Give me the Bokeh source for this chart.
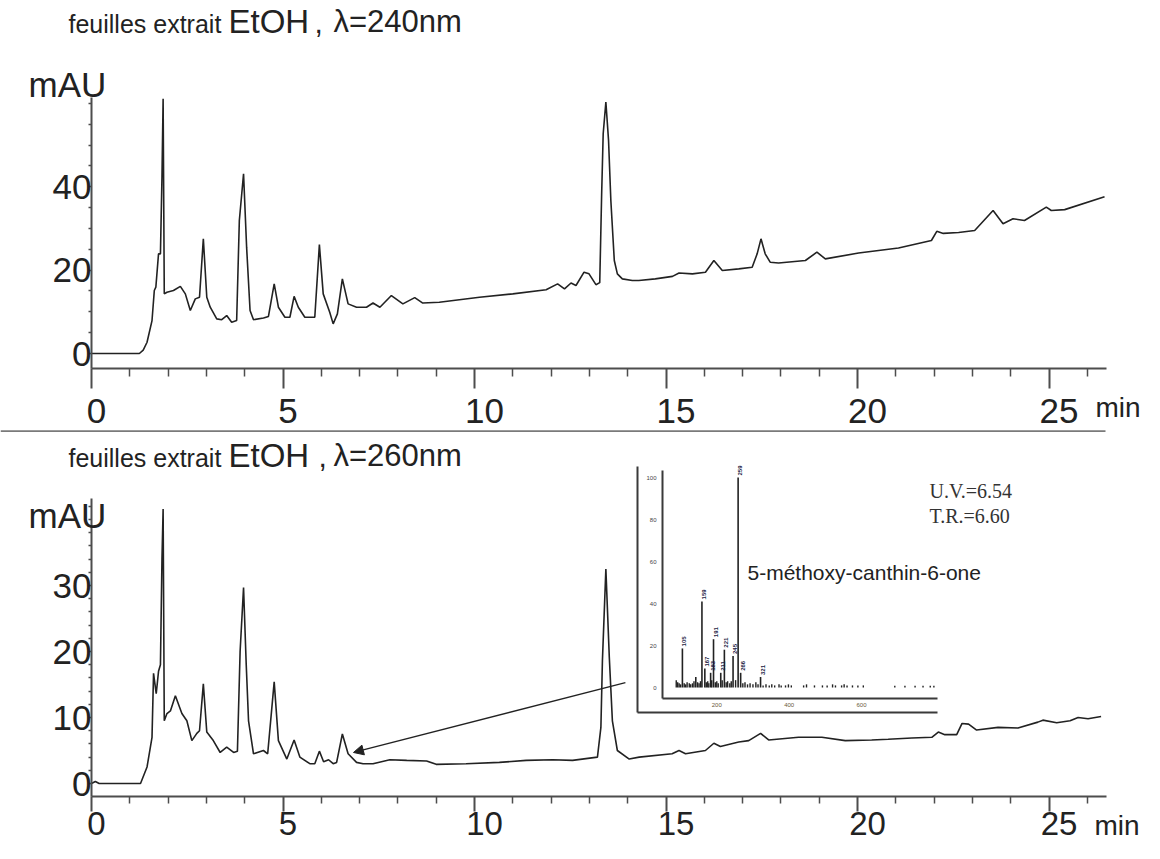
import math
from bokeh.plotting import figure
from bokeh.layouts import column
from bokeh.models import (Range1d, LinearAxis, FixedTicker, Label,
                          Arrow, NormalHead, BoxAnnotation)
from bokeh.embed import file_html
from bokeh.resources import INLINE
from bokeh.core.properties import value

# ----------------------------------------------------------------- data
# chromatogram at 240 nm (min, mAU)
t240 = [0, 1.25, 1.35, 1.45, 1.58, 1.64, 1.68, 1.75, 1.8, 1.84, 1.87, 1.9, 1.97, 2.14, 2.32,
        2.45, 2.58, 2.71, 2.82, 2.92, 3.01, 3.1, 3.27, 3.4, 3.53, 3.66, 3.79, 3.86, 3.97, 4.05,
        4.14, 4.23, 4.49, 4.62, 4.77, 4.88, 5.05, 5.18, 5.29, 5.4, 5.57, 5.83, 5.95, 6.05, 6.22,
        6.31, 6.42, 6.55, 6.7, 6.92, 7.18, 7.35, 7.53, 7.83, 8.13, 8.44, 8.65, 9.08, 10.13, 11.0,
        11.87, 12.17, 12.35, 12.52, 12.65, 12.86, 12.99, 13.17, 13.27, 13.32, 13.36, 13.43, 13.5,
        13.56, 13.65, 13.73, 13.86, 14.12, 14.29, 14.72, 15.17, 15.34, 15.69, 16.03, 16.25, 16.47,
        16.9, 17.25, 17.38, 17.48, 17.59, 17.72, 17.94, 18.64, 18.94, 19.16, 20.03, 21.07, 21.93,
        22.07, 22.24, 22.64, 23.06, 23.54, 23.8, 24.06, 24.36, 24.93, 25.06, 25.41, 26.45]
a240 = [0, 0, 0.8, 2.7, 7.9, 15.1, 15.9, 23.9, 23.9, 42.3, 61.1, 14.3, 14.7, 15.1, 16.1,
        14.3, 10.3, 13.1, 13.5, 27.5, 13.5, 11.1, 8.3, 8.1, 9.1, 7.5, 7.9, 31.9, 43.1, 25.5,
        10.3, 8.1, 8.5, 8.9, 16.7, 11.1, 8.7, 8.7, 13.7, 11.1, 8.7, 8.7, 26.1, 14.3, 9.9,
        7.1, 9.5, 17.9, 11.9, 11.1, 11.1, 12.1, 11.1, 13.9, 11.9, 13.4, 12.1, 12.3, 13.5, 14.3,
        15.3, 16.7, 15.5, 16.9, 16.3, 19.5, 19.1, 16.5, 17.0, 38.3, 52.7, 60.3, 51.1,
        36.7, 22.3, 19.1, 17.9, 17.5, 17.5, 17.9, 18.5, 19.3, 19.1, 19.5, 22.3, 19.9,
        20.3, 20.7, 23.9, 27.5, 23.9, 21.9, 21.7, 22.3, 24.3, 22.7, 24.1, 25.3, 27.1,
        29.3, 28.8, 29.0, 29.5, 34.3, 31.1, 32.3, 31.9, 35.1, 34.3, 34.5, 37.6]

# chromatogram at 260 nm (min, mAU)
t260 = [0, 0.1, 0.2, 1.28, 1.45, 1.58, 1.62, 1.69, 1.75, 1.8, 1.84, 1.87, 1.9, 1.97, 2.06,
        2.19, 2.36, 2.49, 2.62, 2.75, 2.82, 2.92, 3.01, 3.18, 3.36, 3.53, 3.71, 3.81, 3.88, 3.97,
        4.04, 4.1, 4.23, 4.49, 4.6, 4.77, 4.88, 5.1, 5.29, 5.44, 5.7, 5.83, 5.95, 6.06, 6.19,
        6.31, 6.4, 6.55, 6.7, 6.92, 7.09, 7.35, 7.79, 8.23, 8.75, 9.0, 9.78, 10.65, 11.35, 12.04,
        12.56, 13.21, 13.3, 13.34, 13.43, 13.52, 13.6, 13.73, 14.04, 14.3, 15.16, 15.34, 15.51,
        16.03, 16.25, 16.42, 16.9, 17.16, 17.47, 17.68, 18.46, 19.07, 19.68, 20.37, 20.8, 21.42,
        21.94, 22.11, 22.28, 22.59, 22.73, 22.9, 23.11, 23.67, 24.19, 24.71, 24.84, 25.2, 25.55,
        25.76, 26.02, 26.36]
a260 = [0, 0.3, 0, 0, 2.5, 7.0, 16.7, 13.6, 17.0, 18.0, 34.0, 41.6, 9.5, 10.6, 11.0,
        13.3, 10.6, 9.5, 6.5, 7.6, 8.0, 15.1, 7.8, 6.5, 4.7, 5.5, 4.7, 4.9, 20.0, 29.7,
        18.0, 9.5, 4.5, 5.0, 4.5, 15.4, 6.5, 3.7, 6.6, 4.0, 3.0, 3.0, 4.9, 3.3, 3.6,
        3.0, 3.2, 7.5, 4.5, 3.2, 3.0, 3.0, 3.6, 3.5, 3.4, 2.9, 3.0, 3.2, 3.5, 3.6,
        3.5, 4.0, 8.5, 18.6, 32.5, 19.1, 9.5, 5.0, 3.7, 4.0, 4.5, 5.0, 4.5,
        5.0, 6.1, 5.6, 6.3, 6.5, 7.6, 6.6, 7.0, 7.0, 6.5, 6.6, 6.7, 6.9,
        7.0, 7.8, 7.4, 7.4, 9.1, 9.0, 8.1, 8.5, 8.4, 9.3, 9.6, 9.2, 9.5,
        10.0, 9.8, 10.15]

x_major = [0, 5, 10, 15, 20, 25]
x_minor = [1, 2, 3, 4, 6, 7, 8, 9, 11, 12, 13, 14, 16, 17, 18, 19, 21, 22, 23, 24, 26]
y240_major = [0, 20, 40]
y240_minor = [5, 10, 15, 25, 30, 35, 45, 50, 55, 60]
y260_major = [0, 10, 20, 30]
y260_minor = [2, 4, 6, 8, 12, 14, 16, 18, 22, 24, 26, 28, 32, 34, 36, 38, 40, 42]

# inset mass spectrum (m/z, relative abundance %)
ms_mz = [105, 142, 159, 167, 183, 191, 211, 221, 245, 259, 266, 321]
ms_pct = [18.6, 5, 41, 9, 7, 23, 7, 18, 15, 100, 7, 5]
ms_label_mz = [105, 159, 167, 183, 191, 211, 221, 245, 259, 266, 321]
ms_noise_mz = [88, 92, 96, 100, 110, 114, 118, 124, 128, 133, 137, 147, 151, 155, 171, 175,
               178, 186, 196, 200, 204, 215, 226, 230, 236, 240, 252, 272, 278, 285, 292, 300,
               308, 314, 328, 336, 345, 352, 360, 372, 378, 390, 398, 406, 440, 448, 470, 492,
               505, 520, 528, 545, 552, 560, 575, 590, 605, 692, 720, 748, 770, 790, 800]
ms_noise_pct = [3.5, 2.5, 2.0, 1.5, 2.0, 1.5, 2.5, 2.0, 1.5, 2.0, 3.0, 2.5, 2.0, 3.0, 2.5, 3.0,
                2.0, 3.5, 2.5, 3.0, 2.0, 3.5, 2.5, 3.0, 2.0, 3.0, 3.5, 2.0, 2.5, 1.5, 2.0, 1.5,
                2.5, 1.5, 1.0, 1.5, 1.0, 1.5, 1.0, 1.5, 1.0, 1.0, 1.5, 1.0, 1.0, 1.5, 1.0, 1.0,
                1.0, 1.5, 1.0, 1.0, 1.5, 1.0, 1.0, 1.0, 1.0, 0.8, 0.8, 0.8, 0.8, 0.8, 0.8]
ms_x_ticks = [200, 400, 600]
ms_y_ticks = [0, 20, 40, 60, 80, 100]

title_words = ["feuilles extrait", "EtOH", ","]
wavelength_240 = "λ=240nm"
wavelength_260 = "λ=260nm"
y_unit = "mAU"
x_unit = "min"
compound = "5-méthoxy-canthin-6-one"
uv_text = "U.V.=6.54"
tr_text = "T.R.=6.60"
arrow_from = (13.94, 15.3)   # (min, mAU) on the 260 nm trace
arrow_to = (6.84, 4.7)

# ----------------------------------------------------------------- layout (picture pixels)
SANS = "Liberation Sans"
SERIF = "Liberation Serif"
INK = "#222222"
AXIS = "#4d4d4d"
W = 1144
X0_PX, PX_PER_MIN = 91, 38.3  # x = 0 min sits at this pixel column
X_END = 26.5
MID = 0.36                    # text centre sits this many em above its baseline


def lin_range(v0, p0, k, lo, hi):
    """Range whose values map v0 -> pixel p0 with k pixels per unit, over pixels lo..hi."""
    a, b = v0 + (lo - p0) / k, v0 + (hi - p0) / k
    return Range1d(min(a, b), max(a, b))


class Panel:
    def __init__(self, height, canvas_top, zero_px, px_per_mau, axis_px, axis_top_px,
                 y_major, y_minor, tick_major, tick_minor, label_base, label_size):
        self.top = canvas_top
        self.bottom = canvas_top + height
        k = px_per_mau
        self.y_axis_at = -(axis_px - zero_px) / k
        y_top = (zero_px - axis_top_px) / k
        p = figure(width=W, height=height,
                   x_range=lin_range(0, X0_PX, PX_PER_MIN, 0, W),
                   y_range=lin_range(0, zero_px, -k, self.bottom, canvas_top),
                   output_backend="svg", toolbar_location=None, title=None,
                   x_axis_type=None, y_axis_type=None,
                   min_border_left=0, min_border_right=0, min_border_top=0, min_border_bottom=0)
        p.outline_line_color = None
        p.background_fill_color = "white"
        p.border_fill_color = "white"
        xa = LinearAxis(fixed_location=self.y_axis_at, bounds=(0, X_END),
                        ticker=FixedTicker(ticks=x_major, minor_ticks=x_minor),
                        axis_line_color=AXIS, axis_line_width=2,
                        major_tick_line_color=AXIS, major_tick_line_width=2,
                        major_tick_out=tick_major, major_tick_in=0,
                        minor_tick_line_color=AXIS, minor_tick_line_width=1.5,
                        minor_tick_out=tick_minor, minor_tick_in=0,
                        major_label_overrides={v: "" for v in x_major})
        p.add_layout(xa, "below")
        ya = LinearAxis(fixed_location=0, bounds=(self.y_axis_at, y_top),
                        ticker=FixedTicker(ticks=y_major, minor_ticks=y_minor),
                        axis_line_color=AXIS, axis_line_width=2,
                        major_tick_line_color=AXIS, major_tick_line_width=1.5,
                        major_tick_out=3, major_tick_in=0,
                        minor_tick_line_color=AXIS, minor_tick_line_width=1.5,
                        minor_tick_out=3, minor_tick_in=0,
                        major_label_standoff=-3,
                        major_label_text_font=SANS, major_label_text_font_size="35px",
                        major_label_text_color=INK)
        p.add_layout(ya, "left")
        # x tick labels (sit a little right of their ticks, as in the reference)
        drop = (label_base - MID * label_size) - axis_px
        p.text(x=x_major, y=[self.y_axis_at] * len(x_major), text=[str(v) for v in x_major],
               x_offset=[5 * len(str(v)) for v in x_major], y_offset=drop,
               text_font=value(SANS), text_font_size=f"{label_size}px", text_color=INK,
               text_align="center", text_baseline="middle")
        self.p = p

    def label(self, x_px, base_px, text, size, font=SANS, color=INK):
        self.p.add_layout(Label(x=x_px, y=self.bottom - (base_px - MID * size),
                                x_units="screen", y_units="screen", text=text,
                                text_font=font, text_font_size=f"{size}px", text_color=color,
                                text_align="left", text_baseline="middle"))


# ------------------------------------------------------------ top panel (240 nm)
H1 = 432
top = Panel(H1, 0, zero_px=353, px_per_mau=4.17, axis_px=368, axis_top_px=97,
            y_major=y240_major, y_minor=y240_minor, tick_major=20, tick_minor=8,
            label_base=423, label_size=35)
p1 = top.p
p1.line(t240, a240, line_color=INK, line_width=1.6)

top.label(68, 32, title_words[0], 25)
top.label(228, 33, title_words[1], 33)
top.label(314, 33, title_words[2], 30)
top.label(333, 32, wavelength_240, 31)
top.label(28, 97, y_unit, 35)
top.label(1095, 417, x_unit, 28)
# separator rule between the two chromatograms
p1.add_layout(BoxAnnotation(left=0, right=1105, bottom=0, top=2.2,
                            left_units="screen", right_units="screen",
                            top_units="screen", bottom_units="screen",
                            fill_color="#7a7a7a", fill_alpha=1.0, line_color=None))

# ------------------------------------------------------------ bottom panel (260 nm)
H2 = 843 - H1
bot = Panel(H2, H1, zero_px=783, px_per_mau=6.6, axis_px=796, axis_top_px=498,
            y_major=y260_major, y_minor=y260_minor, tick_major=15, tick_minor=7,
            label_base=835, label_size=33)
p2 = bot.p
p2.line(t260, a260, line_color=INK, line_width=1.6)

bot.label(68, 466, title_words[0], 25)
bot.label(228, 467, title_words[1], 33)
bot.label(318, 467, title_words[2], 30)
bot.label(333, 466, wavelength_260, 31)
bot.label(28, 528, y_unit, 35)
bot.label(1094, 835, x_unit, 28)

# ---- inset spectrum: m/z 50 -> px 662, 810 -> px 937 ; 0 % -> px 687, 100 % -> px 477
MZ_K = (937 - 662) / (810 - 50)
PC_K = -(687 - 477) / 100
p2.extra_x_ranges = {"mz": lin_range(50, 662, MZ_K, 0, W)}
p2.extra_y_ranges = {"pct": lin_range(0, 687, PC_K, bot.bottom, bot.top)}
RN = dict(x_range_name="mz", y_range_name="pct")


def mz_at(px):
    return 50 + (px - 662) / MZ_K


def pc_at(py):
    return (py - 687) / PC_K


mz_lo, mz_hi, mz_outer = mz_at(662), mz_at(937), mz_at(637)
pc_inner, pc_outer = pc_at(698), pc_at(712)
p2.segment(x0=[mz_lo, mz_lo, mz_outer, mz_outer], y0=[pc_inner, pc_inner, pc_outer, pc_outer],
           x1=[mz_lo, mz_hi, mz_outer, mz_hi], y1=[pc_at(470), pc_inner, pc_at(466), pc_outer],
           line_color="#3a3a3a", line_width=2, **RN)
p2.segment(x0=ms_noise_mz, y0=[0] * len(ms_noise_mz), x1=ms_noise_mz, y1=ms_noise_pct,
           line_color=INK, line_width=1.4, **RN)
p2.segment(x0=ms_mz, y0=[0] * len(ms_mz), x1=ms_mz, y1=ms_pct, line_color=INK, line_width=1.6, **RN)
lab_h = [ms_pct[ms_mz.index(m)] for m in ms_label_mz]
p2.text(x=ms_label_mz, y=lab_h, text=[str(m) for m in ms_label_mz], angle=math.pi / 2,
        x_offset=2, y_offset=-2, text_font=value(SANS), text_font_size="6px",
        text_font_style="bold", text_color="#1c1c44", text_align="left",
        text_baseline="middle", **RN)
p2.text(x=[mz_lo] * len(ms_y_ticks), y=ms_y_ticks, text=[str(v) for v in ms_y_ticks],
        x_offset=-6, text_font=value(SANS), text_font_size="6px", text_color="#444",
        text_align="right", text_baseline="middle", **RN)
p2.text(x=ms_x_ticks, y=[pc_inner] * len(ms_x_ticks), text=[str(v) for v in ms_x_ticks],
        y_offset=6, text_font=value(SANS), text_font_size="6px", text_color="#6b5a3a",
        text_align="center", text_baseline="middle", **RN)

bot.label(929, 498, uv_text, 20, font=SERIF, color="#333333")
bot.label(929, 523, tr_text, 20, font=SERIF, color="#333333")
bot.label(747, 580, compound, 21)

p2.add_layout(Arrow(end=NormalHead(size=10, fill_color=INK, line_color=INK, line_width=1),
                    x_start=arrow_from[0], y_start=arrow_from[1],
                    x_end=arrow_to[0], y_end=arrow_to[1],
                    line_color=INK, line_width=1.3))

layout = column(p1, p2)
open("out.html", "w").write(file_html(layout, INLINE))
